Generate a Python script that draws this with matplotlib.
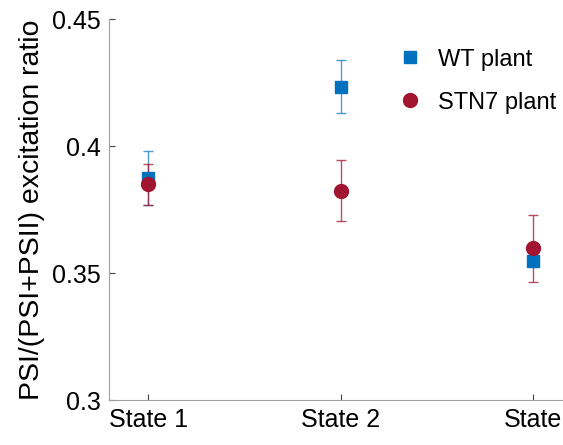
import numpy as np
from matplotlib import pyplot as plt

plt.rcParams['font.family'] = ['Liberation Sans', 'DejaVu Sans']

states = ["State 1", "State 2", "State"]
wt_mean = [0.3875, 0.4234, 0.3547]
wt_err = [0.0107, 0.0104, 0.002]
stn7_mean = [0.3849, 0.3824, 0.3597]
stn7_err = [0.0081, 0.012, 0.0133]

blue = "#0072BD"
red = "#A2142F"

fig = plt.figure(figsize=(5.63, 4.45), dpi=100)
ax = fig.add_axes([0.1936, 0.1011, 0.8064, 0.8559])
x = np.arange(1, len(states) + 1)

ax.errorbar(x, wt_mean, yerr=wt_err, fmt="none", ecolor=blue, elinewidth=1,
            capsize=3.8, capthick=1, alpha=0.7)
ax.errorbar(x, stn7_mean, yerr=stn7_err, fmt="none", ecolor=red, elinewidth=1,
            capsize=3.8, capthick=1, alpha=0.75)
ax.plot(x, wt_mean, "s", color=blue, markersize=8, label="WT plant")
ax.plot(x, stn7_mean, "o", color=red, markersize=10, label="STN7 plant")

ax.set_xlim(0.797, 3.156)
ax.set_ylim(0.3, 0.45)
ax.set_yticks([0.3, 0.35, 0.4, 0.45])
ax.set_yticklabels(["0.3", "0.35", "0.4", "0.45"])
ax.set_xticks(x)
ax.set_xticklabels(states)
ax.tick_params(direction="in", length=4, labelsize=18, color="#444444", pad=6)
ax.set_ylabel("PSI/(PSI+PSII) excitation ratio", fontsize=20.5, labelpad=5)
for s in ["top", "right"]:
    ax.spines[s].set_visible(False)
for s in ["left", "bottom"]:
    ax.spines[s].set_color("#a0a0a0")

fig.legend(loc="upper left", bbox_to_anchor=(0.707, 0.891), frameon=False,
           fontsize=17, handlelength=1.0, handletextpad=0.69, labelspacing=0.89,
           borderpad=0, borderaxespad=0)

fig.savefig("out.png")
